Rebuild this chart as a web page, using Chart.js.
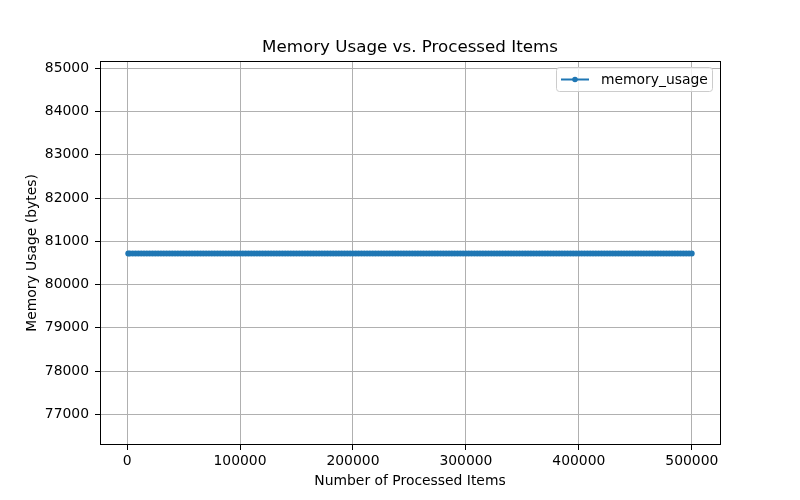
<!DOCTYPE html>
<html>
<head>
<meta charset="utf-8">
<script src="https://cdn.jsdelivr.net/npm/chart.js@4/dist/chart.umd.min.js"></script>
<style>
html,body{margin:0;padding:0;background:#fff;}
#wrap{width:800px;height:500px;position:relative;}
</style>
</head>
<body>
<div id="wrap"><canvas id="c" width="800" height="500"></canvas></div>
<script>
// Data
const processedItems = [1000,2500,5000,7500,10000,12500,15000,17500,20000,22500,25000,27500,30000,32500,35000,37500,40000,42500,45000,47500,
50000,52500,55000,57500,60000,62500,65000,67500,70000,72500,75000,77500,80000,82500,85000,87500,90000,92500,95000,97500,
100000,102500,105000,107500,110000,112500,115000,117500,120000,122500,125000,127500,130000,132500,135000,137500,140000,142500,145000,147500,
150000,152500,155000,157500,160000,162500,165000,167500,170000,172500,175000,177500,180000,182500,185000,187500,190000,192500,195000,197500,
200000,202500,205000,207500,210000,212500,215000,217500,220000,222500,225000,227500,230000,232500,235000,237500,240000,242500,245000,247500,
250000,252500,255000,257500,260000,262500,265000,267500,270000,272500,275000,277500,280000,282500,285000,287500,290000,292500,295000,297500,
300000,302500,305000,307500,310000,312500,315000,317500,320000,322500,325000,327500,330000,332500,335000,337500,340000,342500,345000,347500,
350000,352500,355000,357500,360000,362500,365000,367500,370000,372500,375000,377500,380000,382500,385000,387500,390000,392500,395000,397500,
400000,402500,405000,407500,410000,412500,415000,417500,420000,422500,425000,427500,430000,432500,435000,437500,440000,442500,445000,447500,
450000,452500,455000,457500,460000,462500,465000,467500,470000,472500,475000,477500,480000,482500,485000,487500,490000,492500,495000,497500,
500000];
const memoryUsage = [80720,80720,80720,80720,80720,80720,80720,80720,80720,80720,80720,80720,80720,80720,80720,80720,80720,80720,80720,80720,
80720,80720,80720,80720,80720,80720,80720,80720,80720,80720,80720,80720,80720,80720,80720,80720,80720,80720,80720,80720,
80720,80720,80720,80720,80720,80720,80720,80720,80720,80720,80720,80720,80720,80720,80720,80720,80720,80720,80720,80720,
80720,80720,80720,80720,80720,80720,80720,80720,80720,80720,80720,80720,80720,80720,80720,80720,80720,80720,80720,80720,
80720,80720,80720,80720,80720,80720,80720,80720,80720,80720,80720,80720,80720,80720,80720,80720,80720,80720,80720,80720,
80720,80720,80720,80720,80720,80720,80720,80720,80720,80720,80720,80720,80720,80720,80720,80720,80720,80720,80720,80720,
80720,80720,80720,80720,80720,80720,80720,80720,80720,80720,80720,80720,80720,80720,80720,80720,80720,80720,80720,80720,
80720,80720,80720,80720,80720,80720,80720,80720,80720,80720,80720,80720,80720,80720,80720,80720,80720,80720,80720,80720,
80720,80720,80720,80720,80720,80720,80720,80720,80720,80720,80720,80720,80720,80720,80720,80720,80720,80720,80720,80720,
80720,80720,80720,80720,80720,80720,80720,80720,80720,80720,80720,80720,80720,80720,80720,80720,80720,80720,80720,80720,
80720];
const xTicks = [0,100000,200000,300000,400000,500000];
const yTicks = [77000,78000,79000,80000,81000,82000,83000,84000,85000];
const seriesName = 'memory_usage';
const chartTitle = 'Memory Usage vs. Processed Items';
const xLabel = 'Number of Processed Items';
const yLabel = 'Memory Usage (bytes)';

const FONT = "'DejaVu Sans', sans-serif";
const BLUE = '#1f77b4';

const points = processedItems.map((x,i)=>({x:x,y:memoryUsage[i]}));

const framePlugin = {
  id:'frame',
  afterDraw(chart){
    const {ctx, chartArea:a} = chart;
    ctx.save();
    // spines
    ctx.strokeStyle='#000'; ctx.lineWidth=1;
    ctx.strokeRect(Math.round(a.left)+0.5, Math.round(a.top)+0.5, Math.round(a.right-a.left), Math.round(a.bottom-a.top)-1);
    // title
    ctx.fillStyle='#000';
    ctx.font="16.7px "+FONT;
    ctx.textAlign='center'; ctx.textBaseline='alphabetic';
    ctx.fillText(chartTitle,(a.left+a.right)/2,52);
    // legend
    const bx=556.5, by=67.5, bw=156, bh=24;
    ctx.fillStyle='rgba(255,255,255,0.8)';
    ctx.strokeStyle='#cccccc'; ctx.lineWidth=1;
    ctx.beginPath();
    if(ctx.roundRect){ctx.roundRect(bx,by,bw,bh,3);} else {ctx.rect(bx,by,bw,bh);}
    ctx.fill(); ctx.stroke();
    ctx.strokeStyle=BLUE; ctx.lineWidth=2;
    ctx.beginPath(); ctx.moveTo(561,79.5); ctx.lineTo(589,79.5); ctx.stroke();
    ctx.fillStyle=BLUE;
    ctx.beginPath(); ctx.arc(575,79.5,2.8,0,Math.PI*2); ctx.fill();
    ctx.fillStyle='#000';
    ctx.font="13.9px "+FONT;
    ctx.textAlign='left'; ctx.textBaseline='middle';
    ctx.fillText(seriesName,601,80);
    ctx.restore();
  }
};

new Chart(document.getElementById('c'),{
  type:'line',
  data:{datasets:[{
    label:seriesName,
    data:points,
    borderColor:BLUE,
    backgroundColor:BLUE,
    borderWidth:2,
    pointRadius:2.9,
    pointBorderWidth:0,
    pointBackgroundColor:BLUE,
    pointHoverRadius:2.9,
    fill:false,
    tension:0
  }]},
  options:{
    responsive:false,
    animation:false,
    events:[],
    layout:{padding:{left:0,right:80,top:61,bottom:0}},
    plugins:{legend:{display:false},title:{display:false},tooltip:{enabled:false}},
    scales:{
      x:{
        type:'linear',
        min:-23950,max:524950,
        afterBuildTicks(s){s.ticks=xTicks.map(v=>({value:v}));},
        afterFit(s){s.height=55;},
        border:{display:false},
        grid:{color:'#b0b0b0',lineWidth:1,drawTicks:true,tickLength:5,tickColor:'#000'},
        ticks:{color:'#000',font:{family:FONT,size:13.9},padding:3,maxRotation:0,autoSkip:false,
          callback:(v)=>String(v)},
        title:{display:true,text:xLabel,color:'#000',font:{family:FONT,size:13.9},padding:{top:2,bottom:10}}
      },
      y:{
        type:'linear',
        min:76291,max:85171,
        afterBuildTicks(s){s.ticks=yTicks.map(v=>({value:v}));},
        afterFit(s){s.width=100;},
        border:{display:false},
        grid:{color:'#b0b0b0',lineWidth:1,drawTicks:true,tickLength:5,tickColor:'#000'},
        ticks:{color:'#000',font:{family:FONT,size:13.9},padding:6,autoSkip:false,
          callback:(v)=>String(v)},
        title:{display:true,text:yLabel,color:'#000',font:{family:FONT,size:13.9},padding:{top:24,bottom:0}}
      }
    }
  },
  plugins:[framePlugin]
});
</script>
</body>
</html>
